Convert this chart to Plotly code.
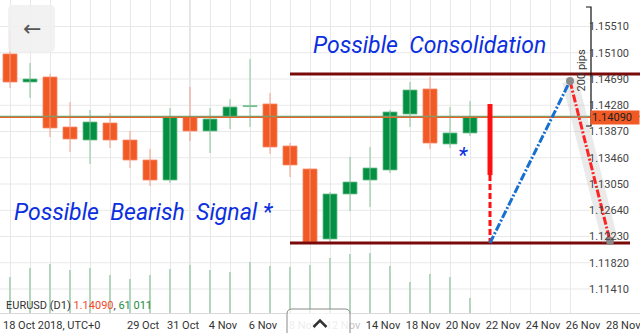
import plotly.graph_objects as go

# ---------------- data ----------------
idx = list(range(24))
opens  = [1.15081, 1.14643, 1.14721, 1.13940, 1.13737, 1.14003, 1.13737, 1.13425,
          1.13112, 1.14096, 1.13878, 1.14096, 1.14260, 1.14300, 1.13643, 1.13284,
          1.12191, 1.12894, 1.13112, 1.13269, 1.14143, 1.14534, 1.13675, 1.13847]
closes = [1.14643, 1.14690, 1.13925, 1.13753, 1.14018, 1.13737, 1.13425, 1.13112,
          1.14096, 1.13878, 1.14065, 1.14253, 1.14268, 1.13628, 1.13347, 1.12144,
          1.12894, 1.13081, 1.13300, 1.14175, 1.14518, 1.13690, 1.13847, 1.14090]
highs  = [1.15455, 1.14940, 1.14768, 1.14331, 1.14206, 1.14159, 1.13878, 1.13597,
          1.14237, 1.14565, 1.14237, 1.14378, 1.15002, 1.14471, 1.13690, 1.13300,
          1.12925, 1.13472, 1.13628, 1.14206, 1.14643, 1.14721, 1.14253, 1.14346]
lows   = [1.14549, 1.14393, 1.13784, 1.13550, 1.13362, 1.13612, 1.13300, 1.13019,
          1.13066, 1.13722, 1.13534, 1.13909, 1.13940, 1.13519, 1.13159, 1.12113,
          1.12144, 1.12628, 1.12691, 1.13222, 1.13940, 1.13597, 1.13612, 1.13800]
volumes = [146400, 183000, 199300, 174900, 183000, 154500, 138300, 154500,
           179000, 195200, 174900, 166700, 207400, 191100, 187100, 195200,
           223700, 240000, 244000, 191100, 126100, 158600, 146400, 61011]

x_tick_pos = [6, 8, 10, 12, 14, 16, 18, 20, 22, 24, 26, 28, 30]
x_tick_txt = ["29 Oct", "31 Oct", "4 Nov", "6 Nov", "8 Nov", "12 Nov", "14 Nov",
              "18 Nov", "20 Nov", "22 Nov", "24 Nov", "26 Nov", "28 Nov"]
y_ticks = [1.11410, 1.11820, 1.12230, 1.12640, 1.13050, 1.13460, 1.13870,
           1.14280, 1.14690, 1.15100, 1.15510]

resistance = 1.14768
support = 1.12128
last_price = 1.14090
green_level = 1.14107
signal_bar = [1.14299, 1.13190, 1.12128]
proj_x = [24, 28, 30]
proj_y = [1.12128, 1.14659, 1.12159]
pips_bracket = [1.13956, 1.15815]

W, H, PB = 640, 333, 20
PH = H - PB
FONT = "Roboto"
LABEL_SHIFT = 13

fig = go.Figure()

# volume histogram
fig.add_trace(go.Bar(x=idx, y=volumes, yaxis="y2", width=0.08,
                     marker=dict(color="#b3d7be", line=dict(width=0)),
                     hoverinfo="skip", showlegend=False))

# wicks
for up in (True, False):
    xs, ys = [], []
    for i in idx:
        if (closes[i] >= opens[i]) == up:
            xs += [i, i, None]
            ys += [lows[i], highs[i], None]
    fig.add_trace(go.Scatter(x=xs, y=ys, mode="lines",
                             line=dict(color="#86c29b" if up else "#f2a08a", width=1),
                             hoverinfo="skip", showlegend=False))

# bodies
for up in (True, False):
    xs, bases, hs = [], [], []
    for i in idx:
        if (closes[i] >= opens[i]) == up:
            xs.append(i)
            bases.append(min(opens[i], closes[i]))
            hs.append(max(abs(closes[i] - opens[i]), 0.00012))
    fig.add_trace(go.Bar(x=xs, y=hs, base=bases, width=0.7,
                         marker=dict(color="#039042" if up else "#f15a24",
                                     line=dict(color="#6fbf8c" if up else "#f7876a", width=0.8)),
                         hoverinfo="skip", showlegend=False))

# price lines
fig.add_trace(go.Scatter(x=[-0.5, 31.5], y=[green_level] * 2, mode="lines",
                         line=dict(color="#6aaa74", width=1.3), hoverinfo="skip", showlegend=False))
fig.add_trace(go.Scatter(x=[-0.5, 29], y=[last_price] * 2, mode="lines",
                         line=dict(color="#e8642c", width=1.3), hoverinfo="skip", showlegend=False))

# resistance / support
fig.add_trace(go.Scatter(x=[14, 31.5], y=[resistance] * 2, mode="lines",
                         line=dict(color="#7a0a0a", width=3), hoverinfo="skip", showlegend=False))
fig.add_trace(go.Scatter(x=[14, 31], y=[support] * 2, mode="lines",
                         line=dict(color="#7a0a0a", width=3), hoverinfo="skip", showlegend=False))

# signal bar
fig.add_trace(go.Scatter(x=[24, 24], y=signal_bar[:2], mode="lines",
                         line=dict(color="#ff1010", width=5), hoverinfo="skip", showlegend=False))
fig.add_trace(go.Scatter(x=[24, 24], y=signal_bar[1:], mode="lines",
                         line=dict(color="#ff1010", width=3, dash="6px,3px"), hoverinfo="skip", showlegend=False))

# highlight band behind projected fall
fig.add_trace(go.Scatter(x=proj_x[1:], y=proj_y[1:], mode="lines",
                         line=dict(color="rgba(170,170,170,0.25)", width=16), hoverinfo="skip", showlegend=False))
# projections
fig.add_trace(go.Scatter(x=proj_x[:2], y=proj_y[:2], mode="lines",
                         line=dict(color="#1570d0", width=3, dash="8px,2px,2px,2px"), hoverinfo="skip", showlegend=False))
fig.add_trace(go.Scatter(x=proj_x[1:], y=proj_y[1:], mode="lines",
                         line=dict(color="#ff2222", width=3, dash="8px,2px,2px,2px"), hoverinfo="skip", showlegend=False))
fig.add_trace(go.Scatter(x=proj_x[1:], y=proj_y[1:], mode="markers",
                         marker=dict(color="#8a8a8a", size=8), hoverinfo="skip", showlegend=False))

# 200 pips bracket
fig.add_trace(go.Scatter(x=[28.8, 29.05, 29.05, 28.8], y=[pips_bracket[1], pips_bracket[1], pips_bracket[0], pips_bracket[0]],
                         mode="lines", line=dict(color="#111", width=1.2), hoverinfo="skip", showlegend=False))

def px(x):
    return x / W

def py(y):
    return 1 - y / PH

def rrect(x0, y0, x1, y1, r):
    return (f"M {px(x0+r)},{py(y0)} L {px(x1-r)},{py(y0)} Q {px(x1)},{py(y0)} {px(x1)},{py(y0+r)} "
            f"L {px(x1)},{py(y1-r)} Q {px(x1)},{py(y1)} {px(x1-r)},{py(y1)} L {px(x0+r)},{py(y1)} "
            f"Q {px(x0)},{py(y1)} {px(x0)},{py(y1-r)} L {px(x0)},{py(y0+r)} Q {px(x0)},{py(y0)} {px(x0+r)},{py(y0)} Z")

shapes = []
for t in y_ticks:
    shapes.append(dict(type="line", xref="x", yref="y", x0=-0.5, x1=29.0, y0=t, y1=t,
                       line=dict(color="#e8e8e8", width=1), layer="below"))
shapes.append(dict(type="line", xref="x", yref="paper", x0=9, x1=9, y0=0, y1=1,
                   line=dict(color="#c9c9c9", width=1), layer="below"))
# back button
shapes.append(dict(type="path", xref="paper", yref="paper", path=rrect(8, 5, 55, 52, 5),
                   fillcolor="rgba(240,240,240,0.85)", line=dict(width=0)))
# bottom handle button
shapes.append(dict(type="path", xref="paper", yref="paper", path=rrect(287, 309, 350, 345, 5),
                   fillcolor="rgba(255,255,255,0.7)", line=dict(color="#8a8a8a", width=1)))
shapes.append(dict(type="path", xref="paper", yref="paper",
                   path=f"M {px(313.5)},{py(327)} L {px(320)},{py(320.5)} L {px(326.5)},{py(327)}",
                   line=dict(color="#333", width=2.5)))

annotations = [
    dict(x=20.95, y=1.15221, xref="x", yref="y", text="Possible\u00a0 Consolidation", showarrow=False,
         font=dict(family=FONT, size=23, color="#0b2fe0", style="italic")),
    dict(x=6.7, y=1.12612, xref="x", yref="y", text="Possible\u00a0 Bearish\u00a0 Signal *", showarrow=False,
         font=dict(family=FONT, size=23, color="#0b2fe0", style="italic")),
    dict(x=22.65, y=1.13503, xref="x", yref="y", text="*", showarrow=False,
         font=dict(family=FONT, size=22, color="#0b2fe0", style="italic")),
    dict(x=28.62, y=1.14831, xref="x", yref="y", text="200 pips", textangle=-90, showarrow=False,
         font=dict(family=FONT, size=11, color="#333")),
    dict(x=1, y=last_price, xref="paper", yref="y", xanchor="right", yanchor="middle", text="1.14090",
         showarrow=False, bgcolor="#f15a24", width=46, height=11, borderpad=1, align="left",
         font=dict(family=FONT, size=11, color="#222")),
    dict(x=px(31.5), y=py(28.5), xref="paper", yref="paper", xanchor="center", yanchor="middle",
         text="\u2190", showarrow=False,
         font=dict(family="DejaVu Sans", size=22, color="#555")),
    dict(x=px(4), y=py(305), xref="paper", yref="paper", xanchor="left", yanchor="middle", showarrow=False,
         text="EURUSD (D1) <span style='color:#f5472a'>1.14090</span>, <span style='color:#1d8c3c'>61 011</span>",
         font=dict(family=FONT, size=11, color="#333")),
    dict(x=px(1), y=py(325), xref="paper", yref="paper", xanchor="left", yanchor="middle", showarrow=False,
         text="18 Oct 2018, UTC+0", font=dict(family=FONT, size=11, color="#333")),
    # last date label sits at the very edge of the window
    dict(x=x_tick_pos[-1], y=py(325), xref="x", yref="paper", xanchor="center", yanchor="middle",
         xshift=LABEL_SHIFT, showarrow=False, text=x_tick_txt[-1],
         font=dict(family=FONT, size=11, color="#333")),
]

tickvals = list(range(0, 32))
ticktext = []
for v in tickvals:
    if v in x_tick_pos[:-1]:
        t = x_tick_txt[x_tick_pos.index(v)]
        if v in (14, 16):
            t = f"<span style='color:#c4c4c4'>{t}</span>"
        ticktext.append(t)
    else:
        ticktext.append("")

fig.update_layout(
    width=W, height=H,
    margin=dict(l=0, r=0, t=0, b=PB, autoexpand=False),
    paper_bgcolor="white", plot_bgcolor="white",
    barmode="overlay", showlegend=False,
    font=dict(family=FONT, size=11, color="#333"),
    xaxis=dict(range=[-0.5, 31.5], tickvals=tickvals, ticktext=ticktext, showgrid=True,
               gridcolor="#e8e8e8", gridwidth=1, ticks="", showline=True, linecolor="#d8d8d8",
               zeroline=False, tickfont=dict(size=11, color="#333"), fixedrange=True,
               automargin=False, ticklabelshift=LABEL_SHIFT, ticklabelstandoff=2, ticklabeloverflow="allow"),
    yaxis=dict(range=[1.11035, 1.15924], side="right", tickvals=y_ticks,
               ticktext=[f"{v:.5f}" for v in y_ticks], ticklabelposition="inside",
               ticklabelstandoff=8, showgrid=False, zeroline=False, ticks="",
               tickfont=dict(size=11, color="#444"), fixedrange=True, automargin=False),
    yaxis2=dict(range=[0, 1273000], overlaying="y", visible=False, fixedrange=True),
    shapes=shapes, annotations=annotations,
)

fig.write_html("out.html")
